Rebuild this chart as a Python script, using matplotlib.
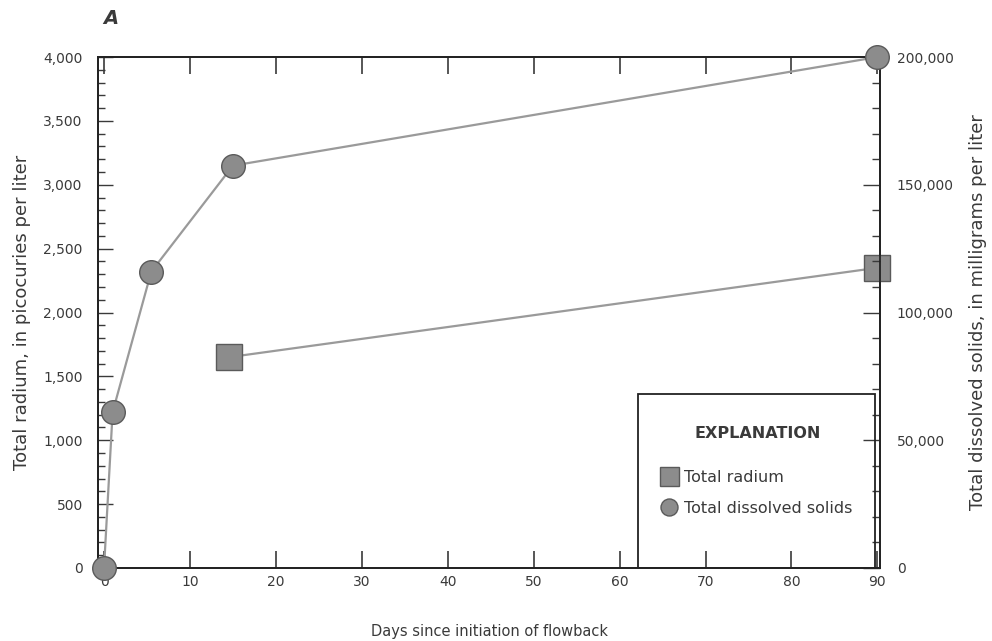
import matplotlib.pyplot as plt
from matplotlib.patches import Rectangle
from matplotlib.ticker import MultipleLocator, FuncFormatter

plt.rcParams['font.family'] = ['DejaVu Sans']

# Total radium, picocuries per liter (left axis)
radium_days = [14.5, 90]
radium = [1650, 2350]

# Total dissolved solids, milligrams per liter (right axis)
tds_days = [0, 1, 5.5, 15, 90]
tds = [0, 61000, 116000, 157500, 200000]

ink = '#3a3a3a'
line_gray = '#9a9a9a'
fill_gray = '#8c8c8c'
edge_gray = '#5a5a5a'

fig = plt.figure(figsize=(9.92, 6.41), dpi=100)
ax = fig.add_axes([0.0988, 0.1139, 0.7883, 0.7971])
ax2 = ax.twinx()

ax.plot(radium_days, radium, color=line_gray, lw=1.6, marker='s', ms=19,
        mfc=fill_gray, mec=edge_gray, mew=1.0, label='Total radium',
        clip_on=False, zorder=3)
ax2.plot(tds_days, tds, color=line_gray, lw=1.6, marker='o', ms=17,
         mfc=fill_gray, mec=edge_gray, mew=1.0, label='Total dissolved solids',
         clip_on=False, zorder=3)

ax.set_xlim(-0.7, 90.3)
ax.set_ylim(0, 4000)
ax2.set_ylim(0, 200000)

comma = FuncFormatter(lambda v, p: f'{int(v):,}')
ax.xaxis.set_major_locator(MultipleLocator(10))
ax.yaxis.set_major_locator(MultipleLocator(500))
ax.yaxis.set_minor_locator(MultipleLocator(100))
ax.yaxis.set_major_formatter(comma)
ax2.yaxis.set_major_locator(MultipleLocator(50000))
ax2.yaxis.set_minor_locator(MultipleLocator(10000))
ax2.yaxis.set_major_formatter(comma)

ax.tick_params(axis='x', which='major', direction='in', length=12, width=1.2,
               top=True, pad=5, labelsize=10, colors=ink)
ax.tick_params(axis='y', which='major', direction='in', length=11, width=1.0,
               pad=11, labelsize=10, colors=ink)
ax.tick_params(axis='y', which='minor', direction='in', length=5, width=1.0,
               colors=ink)
ax2.tick_params(axis='y', which='major', direction='in', length=12, width=1.0,
                pad=12, labelsize=10, colors=ink)
ax2.tick_params(axis='y', which='minor', direction='in', length=6, width=1.0,
                colors=ink)

for a in (ax, ax2):
    for s in a.spines.values():
        s.set_color('#222222')
        s.set_linewidth(1.3)

ax.set_xlabel('Days since initiation of flowback', fontsize=10.5, color=ink,
              labelpad=25)
ax.set_ylabel('Total radium, in picocuries per liter', fontsize=13, color=ink,
              labelpad=9)
ax2.set_ylabel('Total dissolved solids, in milligrams per liter', fontsize=13,
               color=ink, labelpad=11)

fig.text(0.104, 0.962, 'A', fontsize=14, fontweight='bold', style='italic',
         color=ink)

# explanation box
ax2.add_patch(Rectangle((0.69, 0.0), 0.304, 0.34, transform=ax2.transAxes,
                        fill=False, ec='#222222', lw=1.3, zorder=4))
handles = ax.get_legend_handles_labels()[0] + ax2.get_legend_handles_labels()[0]
labels = ax.get_legend_handles_labels()[1] + ax2.get_legend_handles_labels()[1]
leg = ax2.legend(handles, labels, title='EXPLANATION', frameon=False,
                 loc='upper center', bbox_to_anchor=(0.843, 0.307),
                 markerscale=0.72, handlelength=0.9, handletextpad=0.45,
                 labelspacing=1.0, fontsize=11.5,
                 title_fontproperties={'weight': 'bold', 'size': 11.5})
for h in leg.legend_handles:
    h.set_linestyle('none')
for t in leg.get_texts():
    t.set_color(ink)
leg.get_title().set_color(ink)
leg._legend_box.sep = 21

fig.savefig('out.png', dpi=100)
